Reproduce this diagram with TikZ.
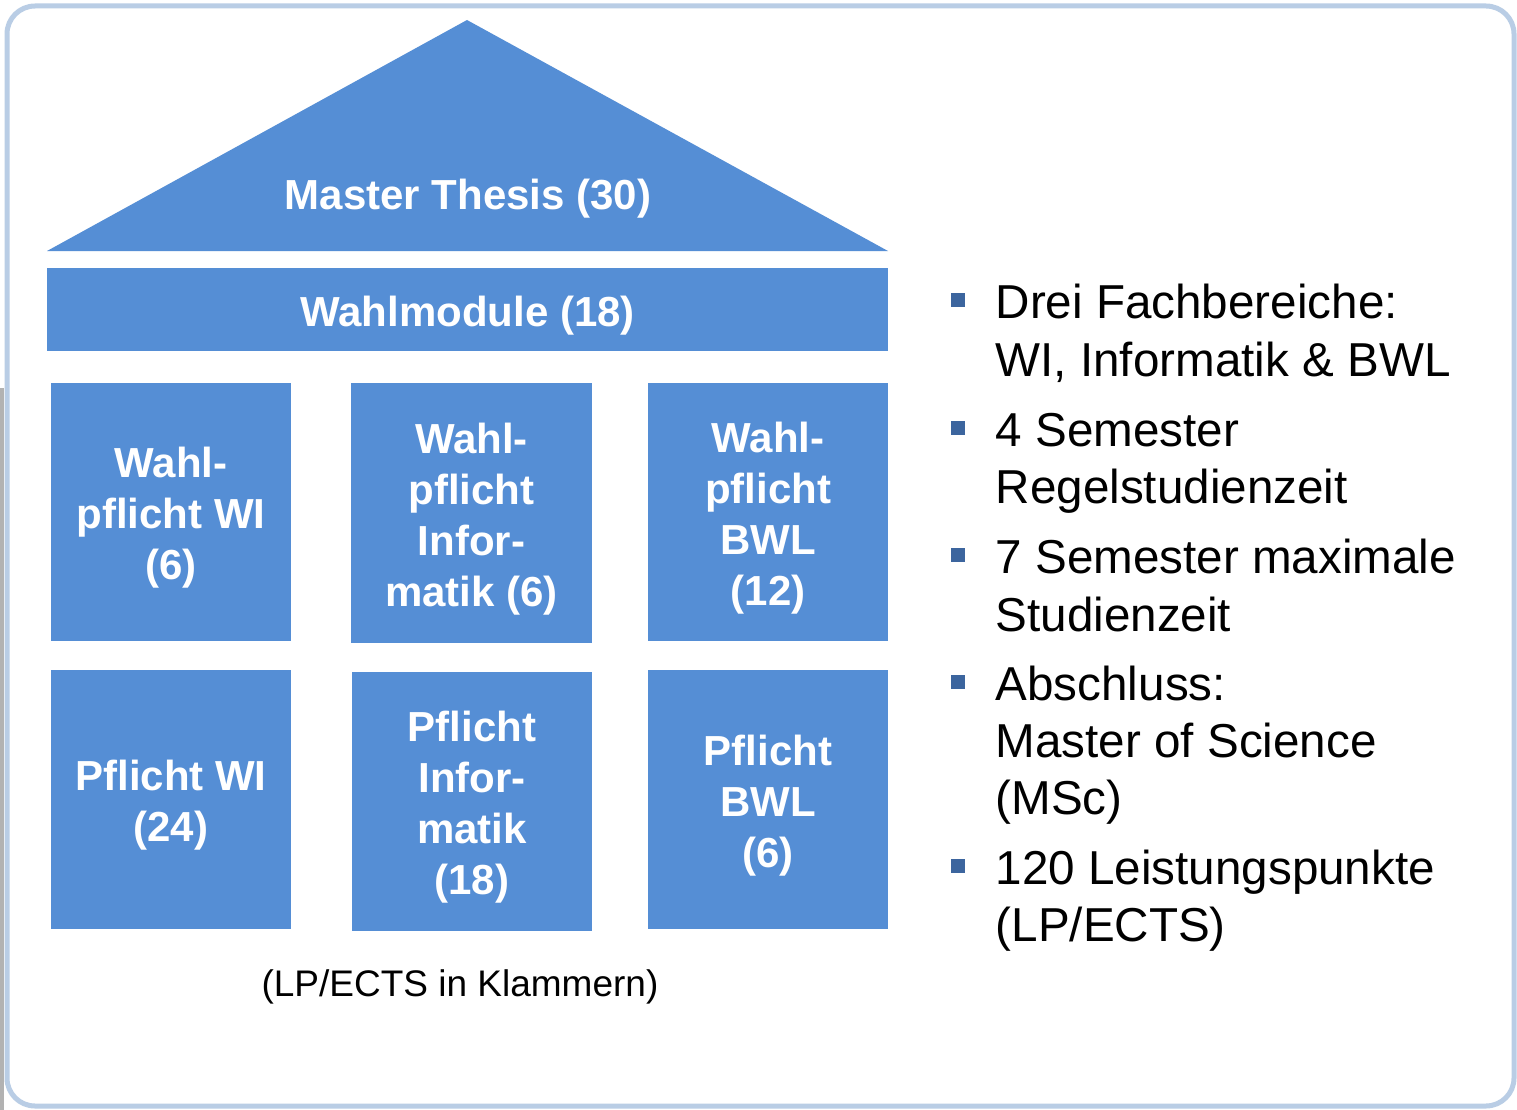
\documentclass[tikz,border=0pt]{standalone}
\usepackage{fontspec}
\setmainfont{Liberation Sans}
\definecolor{hblue}{HTML}{558ED5}
\definecolor{frameblue}{HTML}{B9CDE5}
\definecolor{bulletblue}{HTML}{3C659E}
\begin{document}
\begin{tikzpicture}[x=1pt,y=-1pt,
  blockbox/.style={fill=hblue, inner sep=0pt},
  blocktext/.style={inner sep=0pt, text=white, align=center, yshift=-6pt,
    font=\fontsize{42}{51}\selectfont\bfseries},
  bullettext/.style={anchor=base west, inner sep=0pt, font=\fontsize{47.6}{57}\selectfont},
  bulletsq/.style={fill=bulletblue, minimum size=14pt, inner sep=0pt}
]
\useasboundingbox (0,0) rectangle (1517,1110);
\fill[white] (0,0) rectangle (1517,1110);
% left edge shadow artifact
\fill[gray!60] (0,388) rectangle (4,1110);
% outer frame
\draw[frameblue, line width=5pt, rounded corners=28pt] (7,6) rectangle (1514,1106);

% roof
\fill[hblue] (467,20) -- (888,251) -- (47,251) -- cycle;
\node[anchor=base, inner sep=0pt, text=white, font=\fontsize{42}{51}\selectfont\bfseries] (thesis) at (468,210) {Master Thesis (30)};

% Wahlmodule
\node[blockbox, minimum width=841pt, minimum height=83pt] (wahl) at (467.5,309.5) {};
\node[blocktext] (wahlt) at (wahl.center) {Wahlmodule (18)};

% row 1
\node[blockbox, minimum width=240pt, minimum height=258pt] (wpwi) at (171,512) {};
\node[blockbox, minimum width=241pt, minimum height=260pt] (wpinf) at (471.5,513) {};
\node[blockbox, minimum width=240pt, minimum height=258pt] (wpbwl) at (768,512) {};
\node[blocktext] (wpwit) at (wpwi.center) {Wahl-\\pflicht WI\\(6)};
\node[blocktext] (wpinft) at (wpinf.center) {Wahl-\\pflicht\\Infor-\\matik (6)};
\node[blocktext] (wpbwlt) at (wpbwl.center) {Wahl-\\pflicht\\BWL\\(12)};

% row 2
\node[blockbox, minimum width=240pt, minimum height=259pt] (pwi) at (171,799.5) {};
\node[blockbox, minimum width=240pt, minimum height=259pt] (pinf) at (472,801.5) {};
\node[blockbox, minimum width=240pt, minimum height=259pt] (pbwl) at (768,799.5) {};
\node[blocktext] (pwit) at (pwi.center) {Pflicht WI\\(24)};
\node[blocktext] (pinft) at (pinf.center) {Pflicht\\Infor-\\matik\\(18)};
\node[blocktext] (pbwlt) at (pbwl.center) {Pflicht\\BWL\\(6)};

% caption
\node[anchor=base, inner sep=0pt, font=\fontsize{37}{44}\selectfont] (cap) at (460,996) {(LP/ECTS in Klammern)};

% bullets
\node[bulletsq] (b1) at (958,300) {};
\node[bulletsq] (b2) at (958,428) {};
\node[bulletsq] (b3) at (958,555) {};
\node[bulletsq] (b4) at (958,682) {};
\node[bulletsq] (b5) at (958,866) {};

\node[bullettext] (t1a) at (995.5,318) {Drei Fachbereiche:};
\node[bullettext] (t1b) at (995.5,376) {WI, Informatik \& BWL};
\node[bullettext] (t2a) at (995.5,446) {4 Semester};
\node[bullettext] (t2b) at (995.5,503) {Regelstudienzeit};
\node[bullettext] (t3a) at (995.5,573) {7 Semester maximale};
\node[bullettext] (t3b) at (995.5,631) {Studienzeit};
\node[bullettext] (t4a) at (995.5,700) {Abschluss:};
\node[bullettext] (t4b) at (995.5,757) {Master of Science};
\node[bullettext] (t4c) at (995.5,814) {(MSc)};
\node[bullettext] (t5a) at (995.5,884) {120 Leistungspunkte};
\node[bullettext] (t5b) at (995.5,941) {(LP/ECTS)};
\end{tikzpicture}
\end{document}
